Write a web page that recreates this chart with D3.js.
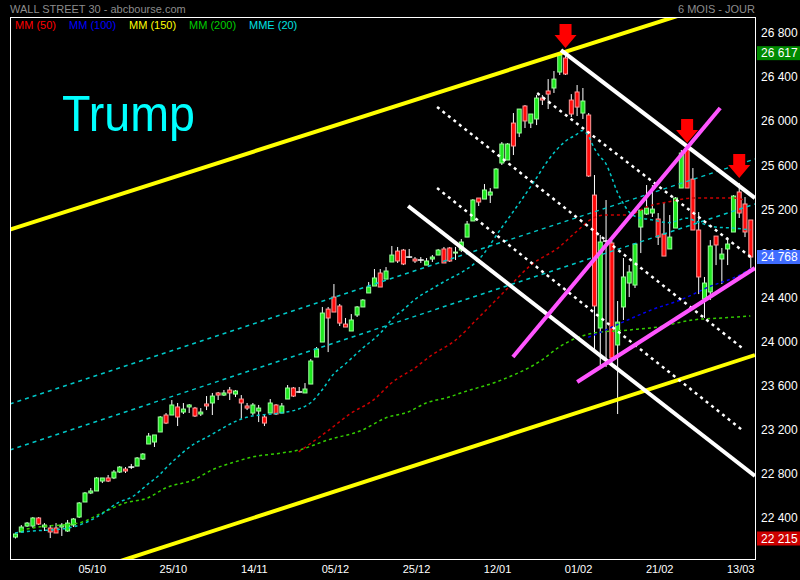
<!DOCTYPE html>
<html><head><meta charset="utf-8">
<script src="https://cdn.jsdelivr.net/npm/d3@7"></script>
<style>html,body{margin:0;padding:0;background:#000;}svg{display:block;}</style>
</head><body>
<script>
// ---------- DATA ----------
const tickIdx    = [13,27,41,55,69,83,97,111,125];
const tickLabels = ["05/10","25/10","14/11","05/12","25/12","12/01","01/02","21/02","13/03"];
const priceTicks = [22400,22800,23200,23600,24000,24400,24800,25200,25600,26000,26400,26800];

const open = [22228,22274,22328,22328,22401,22319,22310,22310,22319,22283,
22337,22410,22546,22628,22646,22736,22764,22764,22818,22845,
22863,22872,22936,23072,23090,23181,23335,23335,23408,23362,
23408,23398,23344,23435,23444,23535,23516,23562,23525,23480,
23417,23353,23371,23317,23353,23426,23353,23480,23580,23544,
23535,23616,23861,23997,24296,24405,24324,24160,24097,24242,
24315,24442,24505,24623,24568,24723,24822,24831,24768,24750,
24741,24695,24750,24786,24841,24850,24804,24831,24949,25095,
25303,25294,25330,25394,25621,25648,25983,25893,26138,25983,
26020,26210,26274,26301,26446,26573,26192,26265,26074,26056,
25330,24124,24913,24895,23970,24315,24532,24514,25040,25158,
25167,25113,24977,24841,25031,25394,25748,25475,25013,24387,
24451,24958,24750,24841,24995,25358,25249,25104];
const high = [22265,22337,22364,22410,22410,22355,22337,22355,22355,22383,
22401,22546,22637,22673,22773,22764,22791,22836,22872,22863,
22891,22954,22990,23172,23154,23326,23353,23471,23444,23444,
23435,23408,23398,23507,23535,23544,23562,23589,23562,23516,
23444,23444,23426,23335,23480,23435,23444,23607,23589,23589,
23625,23843,23952,24315,24315,24523,24342,24215,24251,24324,
24387,24541,24659,24659,24677,24868,24859,24841,24841,24768,
24768,24759,24786,24841,24859,24859,24859,24931,25095,25294,
25303,25430,25394,25575,25811,25802,26074,26110,26147,26065,
26237,26237,26382,26455,26617,26591,26246,26328,26301,26074,
25512,24968,25285,24913,24369,24759,24695,24895,25194,25421,
25421,25167,25258,25149,25312,25739,25757,25575,25176,24587,
24922,24958,24850,24949,25330,25439,25312,25104];
const low = [22215,22274,22319,22310,22337,22283,22219,22265,22238,22274,
22319,22401,22546,22618,22646,22718,22727,22754,22809,22809,
22845,22872,22927,23072,23045,23181,23253,23335,23235,23344,
23353,23317,23326,23380,23335,23471,23507,23471,23498,23299,
23380,23335,23271,23235,23353,23335,23353,23480,23498,23535,
23535,23616,23861,23997,23906,24269,24142,24133,24097,24224,
24315,24442,24505,24496,24568,24723,24714,24695,24759,24714,
24714,24695,24723,24786,24714,24723,24741,24813,24949,25095,
25231,25294,25258,25394,25603,25648,25693,25856,25938,25938,
25965,26147,26110,26256,26419,26419,26038,26047,26020,25494,
23925,23788,23770,23788,23344,24197,24405,24487,24804,25149,
25131,24877,24777,24841,25031,25394,25394,25013,24432,24215,
24378,24695,24523,24695,24995,25122,24949,24668];
const close = [22256,22319,22355,22401,22346,22337,22274,22265,22337,22355,
22392,22537,22628,22646,22764,22764,22736,22818,22863,22827,
22863,22945,22981,23144,23154,23317,23262,23426,23317,23389,
23426,23326,23362,23417,23507,23516,23535,23535,23553,23444,
23398,23426,23398,23262,23444,23344,23417,23580,23507,23544,
23571,23825,23934,24260,24215,24269,24169,24133,24197,24315,
24378,24496,24578,24496,24641,24786,24732,24705,24768,24732,
24741,24732,24768,24831,24714,24732,24813,24904,25067,25285,
25267,25376,25358,25566,25793,25793,25775,26110,26002,26065,
26210,26192,26246,26382,26600,26428,26065,26128,26183,25503,
24324,24904,24913,23852,24178,24587,24632,24886,25194,25212,
25203,24949,24777,24949,25303,25711,25394,25013,24587,24532,
24868,24877,24795,24886,25321,25167,24995,24768];

// moving averages: [index, value]
const mme20 = [[0,22265],[3,22283],[6,22292],[10,22319],[12,22355],[15,22437],[18,22546],[20,22585],
 [23,22710],[25,22795],[26,22850],[28,22950],[31,23075],[33,23130],[35,23190],[38,23275],[40,23315],
 [42,23333],[46,23355],[49,23390],[51,23444],[53,23560],[55,23705],[57,23795],[60,23940],[62,24025],
 [64,24130],[65,24200],[67,24287],[69,24380],[72,24480],[75,24570],[77,24625],[80,24740],[84,25030],
 [87,25250],[90,25480],[92,25640],[95,25815],[97,25880],[98,25915],[99,25870],[100,25760],[101,25680],
 [102,25620],[103,25500],[104,25360],[105,25260],[106,25180],[107,25140],[110,25105],[113,25080],
 [116,25120],[118,25085],[121,25040],[124,25031],[127,25013]];
const mm50 = [[49,23000],[54,23190],[58,23350],[62,23475],[65,23625],[69,23760],[72,23879],[76,24010],
 [80,24215],[85,24480],[89,24690],[94,24859],[97,25000],[100,25125],[102,25149],[106,25149],[109,25221],
 [113,25270],[117,25303],[124,25303],[126,25285]];
const mm100 = [[99,24040],[100,24060],[105,24178],[110,24290],[115,24380],[120,24500],[125,24600],[127,24660]];
const mm200 = [[1,22292],[4,22319],[11,22355],[15,22446],[19,22537],[23,22585],[26,22673],[31,22750],
 [34,22836],[38,22910],[41,22954],[46,22990],[49,23017],[54,23108],[60,23199],[64,23308],[68,23365],
 [71,23444],[75,23498],[77,23535],[84,23652],[91,23834],[94,23952],[100,24079],[106,24106],[111,24133],
 [117,24197],[122,24215],[127,24233]];

// drawn trend lines: endpoints [index, price]
const yellowLines  = [[[-0.9,25017],[127.8,27179]], [[14,21939],[127.8,23879]]];
const whiteLines   = [[[94.3,26645],[127.8,25303]], [[67.9,25231],[127.8,22782]]];
const dottedLines  = [[[90.2,26255],[127.3,24759]], [[72.9,26129],[125.6,23943]], [[72.9,25394],[125.6,23199]]];
const magentaLines = [[[86,23861],[121.8,26119]], [[97.1,23634],[127.8,24668]]];
const cyanLines    = [[[-0.9,23435],[127.8,25657]], [[-0.9,23017],[127.8,25249]]];
const arrowIdx = [95,116,125];
const arrowTip = [26664,25802,25485];

const legendNames  = ["MM (50)","MM (100)","MM (150)","MM (200)","MME (20)"];
const legendColors = ["#ff0000","#0000ff","#ffff00","#00cc00","#00e0e0"];
const lastValues = [26617, 24768, 22215];
const lastColors = ["#008a00", "#3f6cff", "#cc0000"];

// ---------- CHART ----------
const W = 800, H = 580;
const L = 10, T = 17, R = 755, B = 559;
const svg = d3.select("body").append("svg").attr("width", W).attr("height", H)
  .style("font-family", "'Liberation Sans', Arial, sans-serif");
svg.append("rect").attr("width", W).attr("height", H).attr("fill", "#000");

const x = d3.scaleLinear().domain([0, 127]).range([15, 750.3]);
const y = d3.scaleLinear().domain([22400, 26800]).range([518.1, 33]);

svg.append("defs").append("clipPath").attr("id", "clip")
  .append("rect").attr("x", L).attr("y", T).attr("width", R - L).attr("height", B - T);
const g = svg.append("g").attr("clip-path", "url(#clip)");

// candles
const idx = d3.range(open.length);
g.append("g").selectAll("line").data(idx).join("line")
  .attr("x1", i => x(i) + 0.5).attr("x2", i => x(i) + 0.5)
  .attr("y1", i => y(high[i])).attr("y2", i => y(low[i]))
  .attr("stroke", "#fff").attr("stroke-width", 1);
g.append("g").selectAll("rect").data(idx.filter(i => open[i] !== close[i])).join("rect")
  .attr("x", i => x(i) - 1.5).attr("width", 4)
  .attr("y", i => y(Math.max(open[i], close[i])))
  .attr("height", i => Math.max(1, Math.abs(y(open[i]) - y(close[i]))))
  .attr("fill", i => close[i] > open[i] ? "#1ee81e" : "#ff0a0a")
  .attr("stroke", i => close[i] > open[i] ? "#9dff9d" : "#ff9a9a")
  .attr("stroke-width", 1);
g.append("g").selectAll("line").data(idx.filter(i => open[i] === close[i])).join("line")
  .attr("x1", i => x(i) - 2.5).attr("x2", i => x(i) + 3.5)
  .attr("y1", i => y(open[i])).attr("y2", i => y(open[i]))
  .attr("stroke", "#fff").attr("stroke-width", 1.5);

// moving averages
const line = d3.line().x(d => x(d[0])).y(d => y(d[1])).curve(d3.curveMonotoneX);
const mas = [[mm200, "#33cc00"], [mm100, "#0000ee"], [mm50, "#cc0000"], [mme20, "#00c8c8"]];
mas.forEach(([d, c]) => g.append("path").datum(d).attr("d", line).attr("fill", "none")
  .attr("stroke", c).attr("stroke-width", 1.5).attr("stroke-dasharray", "3,3"));

// trend lines
const straight = d3.line().x(d => x(d[0])).y(d => y(d[1]));
cyanLines.forEach(d => g.append("path").datum(d).attr("d", straight)
  .attr("stroke", "#00c8c8").attr("stroke-width", 1.5).attr("stroke-dasharray", "4,4").attr("fill", "none"));
yellowLines.forEach(d => g.append("path").datum(d).attr("d", straight)
  .attr("stroke", "#ffff00").attr("stroke-width", 4).attr("fill", "none"));
dottedLines.forEach(d => g.append("path").datum(d).attr("d", straight)
  .attr("stroke", "#ffffff").attr("stroke-width", 2.5).attr("stroke-dasharray", "3,4").attr("fill", "none"));
whiteLines.forEach(d => g.append("path").datum(d).attr("d", straight)
  .attr("stroke", "#ffffff").attr("stroke-width", 4).attr("fill", "none"));
magentaLines.forEach(d => g.append("path").datum(d).attr("d", straight)
  .attr("stroke", "#ff55ff").attr("stroke-width", 4).attr("fill", "none"));

// arrows
g.append("g").selectAll("path").data(arrowIdx).join("path")
  .attr("d", (d, k) => {
    const tx = x(d) + 0.5, ty = y(arrowTip[k]);
    return `M${tx-6},${ty-24}L${tx+6},${ty-24}L${tx+6},${ty-13}L${tx+11},${ty-13}L${tx},${ty}L${tx-11},${ty-13}L${tx-6},${ty-13}Z`;
  })
  .attr("fill", "#ff0000");

// Trump label
svg.append("text").attr("x", 62).attr("y", 131).attr("font-size", 50)
  .attr("textLength", 133).attr("lengthAdjust", "spacingAndGlyphs")
  .attr("fill", "#00ffff").text("Trump");

// frame
svg.append("rect").attr("x", L + 0.5).attr("y", T + 0.5).attr("width", R - L).attr("height", B - T)
  .attr("fill", "none").attr("stroke", "#fff").attr("stroke-width", 1);

// header & legend
svg.append("text").attr("x", 10).attr("y", 13).attr("font-size", 11).attr("fill", "#8c8c8c")
  .text("WALL STREET 30 - abcbourse.com");
svg.append("text").attr("x", 755).attr("y", 13).attr("font-size", 11).attr("fill", "#8c8c8c")
  .attr("text-anchor", "end").text("6 MOIS - JOUR");
const legX = [15, 69, 129, 189, 249];
svg.append("g").selectAll("text").data(legendNames).join("text")
  .attr("x", (d, k) => legX[k]).attr("y", 29).attr("font-size", 11)
  .attr("fill", (d, k) => legendColors[k]).text(d => d);

// right axis
const fmt = v => d3.format(",")(v).replace(",", " ");
svg.append("g").selectAll("text").data(priceTicks).join("text")
  .attr("x", 761).attr("y", d => y(d)).attr("dy", "0.35em").attr("font-size", 12)
  .attr("fill", "#fff").text(fmt);
const lv = svg.append("g").selectAll("g").data(lastValues).join("g");
lv.append("rect").attr("x", 757).attr("y", d => y(d) - 7).attr("width", 43).attr("height", 14)
  .attr("fill", (d, k) => lastColors[k]);
lv.append("text").attr("x", 761).attr("y", d => y(d)).attr("dy", "0.35em").attr("font-size", 12)
  .attr("fill", "#fff").text(fmt);

// bottom axis
svg.append("g").selectAll("text").data(tickIdx).join("text")
  .attr("x", d => x(d) + 2).attr("y", 573).attr("text-anchor", "middle").attr("font-size", 11)
  .attr("fill", "#fff").text((d, k) => tickLabels[k]);
</script>
</body></html>
